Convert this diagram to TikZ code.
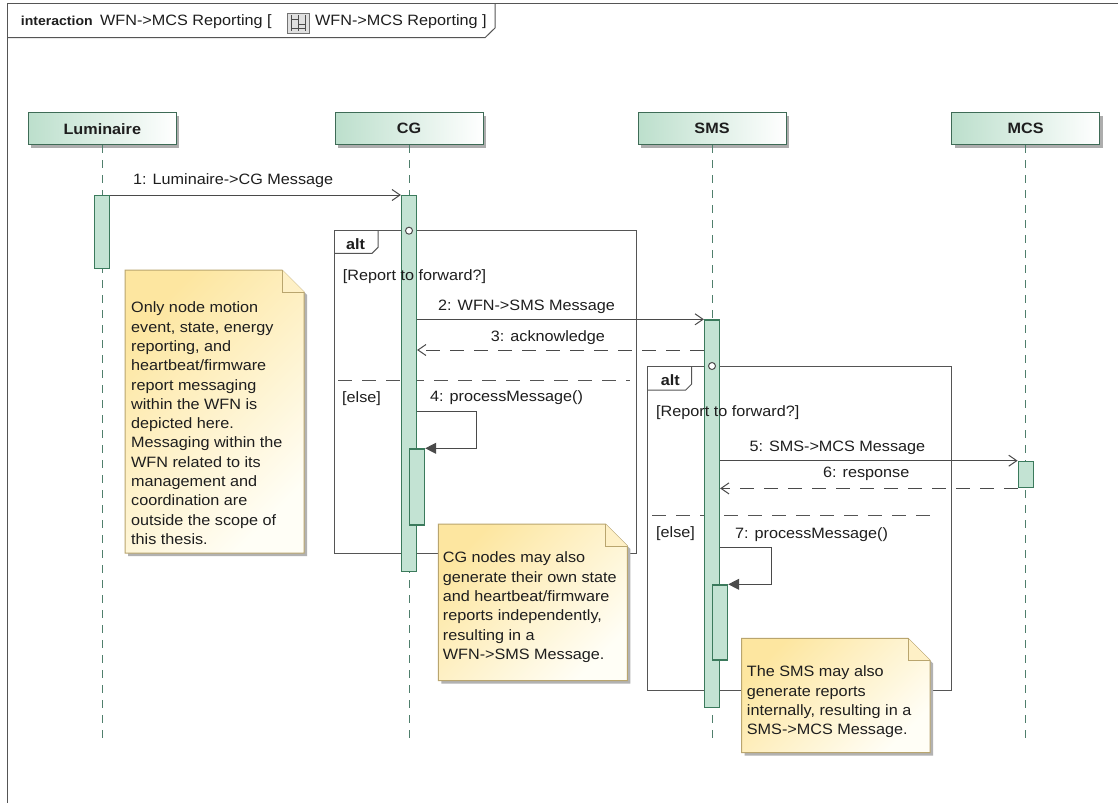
\documentclass[tikz,border=0pt]{standalone}
\usepackage{fontspec}
\setmainfont{Liberation Sans}[FakeStretch=1.08]
\usetikzlibrary{arrows.meta,shadows}

\definecolor{txt}{HTML}{1E1E1E}
\definecolor{frameline}{HTML}{555555}
\definecolor{msgline}{HTML}{4A4A4A}
\definecolor{headgreen}{HTML}{BCDFCC}
\definecolor{headedge}{HTML}{3E6B56}
\definecolor{barfill}{HTML}{C3E3D3}
\definecolor{baredge}{HTML}{3B7A5C}
\definecolor{lifeline}{HTML}{4F7F6C}
\definecolor{noteyellow}{HTML}{FDE6A0}
\definecolor{notelight}{HTML}{FFFEF6}
\definecolor{noteedge}{HTML}{B9A56E}

\begin{document}
\begin{tikzpicture}[x=1pt,y=-1pt,
  every node/.style={font=\fontsize{15}{19.3}\selectfont, text=txt},
  head/.style={draw=headedge, line width=1pt, left color=headgreen, right color=white,
    minimum width=148pt, minimum height=32pt, inner sep=0pt, font=\fontsize{15}{19}\selectfont\bfseries,
    drop shadow={shadow xshift=3pt, shadow yshift=-3pt, fill=black!40, opacity=0.8}},
  life/.style={draw=lifeline, line width=1pt, dash pattern=on 8pt off 7pt},
  actbar/.style={draw=baredge, fill=barfill, line width=1.2pt, minimum width=15pt, inner sep=0pt},
  msg/.style={draw=msgline, line width=1pt, -{Straight Barb[length=8pt,width=11pt,line width=1pt]}},
  reply/.style={msg, dash pattern=on 14pt off 10pt},
  selfmsg/.style={draw=msgline, line width=1pt, -{Triangle[length=11pt,width=11pt]}},
  lbl/.style={anchor=base west, inner sep=0pt},
  frag/.style={draw=frameline, line width=1pt},
  operand/.style={draw=frameline, line width=1pt, dash pattern=on 14pt off 10pt},
  gate/.style={circle, draw=msgline, fill=white, line width=1pt, minimum size=7pt, inner sep=0pt},
  notetext/.style={anchor=north west, inner sep=0pt, align=left},
  noteshape/.style={draw=noteedge, line width=1pt, top color=noteyellow, bottom color=notelight, shading angle=45},
  noteshadow/.style={fill=black!30},
]
\useasboundingbox (0,0) rectangle (1118,803);
\fill[white] (0,0) rectangle (1118,803);

% diagram frame and its name tab
\draw[frag] (1118,3.3) -- (7,3.3) -- (7,803);
\draw[frag] (7,37.7) -- (485,37.7) -- (495,28) -- (495,3.3);
\node[lbl, font=\fontsize{13}{16}\selectfont\bfseries] (kind) at (20.7,25.7) {interaction};
\node[lbl] (title) at (100,25.7) {WFN->MCS Reporting [};
\node[draw=black!55, fill=black!12, line width=0.8pt, minimum width=22pt, minimum height=20pt, inner sep=0pt] (icon) at (298,23) {};
\draw[black!70, line width=0.7pt] (291,15) -- (291,31) (298,15) -- (298,31) (305,15) -- (305,31);
\draw[black!70, line width=0.7pt] (291,19) -- (298,19) (298,24) -- (305,24) (305,28) -- (291,28);
\node[lbl] (title2) at (315,25.7) {WFN->MCS Reporting ]};

% lifeline heads
\node[head] (lum) at (102.3,128.8) {Luminaire};
\node[head] (cg)  at (409,128.8) {CG};
\node[head] (sms) at (712,128.8) {SMS};
\node[head] (mcs) at (1025.7,128.8) {MCS};

% lifeline ends
\coordinate (lumEnd) at (102.3,738);
\coordinate (cgEnd)  at (409,738);
\coordinate (smsEnd) at (712,738);
\coordinate (mcsEnd) at (1025.7,738);

\draw[life] (lum.south) -- (lumEnd);
\draw[life] (cg.south) -- (cgEnd);
\draw[life] (sms.south) -- (smsEnd);
\draw[life] (mcs.south) -- (mcsEnd);

% combined fragment 1 (CG)
\draw[frag] (334,230.7) rectangle (636.7,553.3);
\draw[frag] (334,253.3) -- (372,253.3) -- (378,247.3) -- (378,230.7);
\draw[operand] (338,380) -- (630,380);

% combined fragment 2 (SMS)
\draw[frag] (647.3,366) rectangle (951.7,690.7);
\draw[frag] (647.3,390) -- (685.7,390) -- (691.7,384) -- (691.7,366);
\draw[operand] (652,515) -- (940,515);

% activation bars
\node[actbar, anchor=north, minimum height=73pt]  (lumbar) at (102.3,195) {};
\node[actbar, anchor=north, minimum height=376pt] (cgbar)  at (409,195) {};
\node[actbar, anchor=north, minimum height=387.7pt] (smsbar) at (712,319.3) {};
\node[actbar, anchor=north, minimum height=26.5pt] (mcsbar) at (1025.7,460.7) {};
\node[actbar, anchor=north west, minimum height=76pt] (cgnest)  at (409,448.3) {};
\node[actbar, anchor=north west, minimum height=75pt] (smsnest) at (712,584.3) {};

% gates of the fragments
\node[gate] (g1) at (409,230.7) {};
\node[gate] (g2) at (712,366) {};

% fragment labels and guards
\node[lbl, font=\fontsize{15}{19}\selectfont\bfseries] (alt1) at (346,249) {alt};
\node[lbl] (guard1) at (342.7,280) {[Report to forward?]};
\node[lbl] (else1) at (342,402) {[else]};
\node[lbl, font=\fontsize{15}{19}\selectfont\bfseries] (alt2) at (660.7,385) {alt};
\node[lbl] (guard2) at (656,416.7) {[Report to forward?]};
\node[lbl] (else2) at (656,537.7) {[else]};

% messages
\draw[msg] (lumbar.north east) -- (cgbar.north west);
\node[lbl] (l1) at (133,184.3) {1: Luminaire->CG Message};

\draw[msg] (cgbar.east |- smsbar.north) -- (smsbar.north west);
\node[lbl] (l2) at (438,310) {2: WFN->SMS Message};

\draw[reply] (smsbar.west |- 0,350) -- (cgbar.east |- 0,350);
\node[lbl] (l3) at (490.7,341.7) {3: acknowledge};

\draw[selfmsg] (cgbar.east |- 0,411.7) -| (476.7,448.3) -- (cgnest.north east);
\node[lbl] (l4) at (430,401.7) {4: processMessage()};

\draw[msg] (smsbar.east |- mcsbar.north) -- (mcsbar.north west);
\node[lbl] (l5) at (749.3,451) {5: SMS->MCS Message};

\draw[reply] (mcsbar.south west) -- (smsbar.east |- mcsbar.south);
\node[lbl] (l6) at (823,477.7) {6: response};

\draw[selfmsg] (smsbar.east |- 0,547.3) -| (771.7,584.3) -- (smsnest.north east);
\node[lbl] (l7) at (735,538.3) {7: processMessage()};

% notes
\fill[noteshadow] (128,273) -- (285,273) -- (307,295) -- (307,556) -- (128,556) -- cycle;
\path[noteshape] (125,270) -- (282,270) -- (304,292) -- (304,553) -- (125,553) -- cycle;
\draw[draw=noteedge, line width=1pt, fill=noteyellow!60] (282,270) -- (282,292) -- (304,292);
\node[notetext] (n1) at (131,301.8) {Only node motion\\event, state, energy\\reporting, and\\heartbeat/firmware\\report messaging\\within the WFN is\\depicted here.\\Messaging within the\\WFN related to its\\management and\\coordination are\\outside the scope of\\this thesis.};

\fill[noteshadow] (441.3,527) -- (608.3,527) -- (630.3,549) -- (630.3,683.7) -- (441.3,683.7) -- cycle;
\path[noteshape] (438.3,524) -- (605.3,524) -- (627.3,546) -- (627.3,680.7) -- (438.3,680.7) -- cycle;
\draw[draw=noteedge, line width=1pt, fill=noteyellow!60] (605.3,524) -- (605.3,546) -- (627.3,546);
\node[notetext] (n2) at (442.7,551.8) {CG nodes may also\\generate their own state\\and heartbeat/firmware\\reports independently,\\resulting in a\\WFN->SMS Message.};

\fill[noteshadow] (744.7,641.3) -- (911,641.3) -- (933,663.3) -- (933,755.7) -- (744.7,755.7) -- cycle;
\path[noteshape] (741.7,638.3) -- (908,638.3) -- (930,660.3) -- (930,752.7) -- (741.7,752.7) -- cycle;
\draw[draw=noteedge, line width=1pt, fill=noteyellow!60] (908,638.3) -- (908,660.3) -- (930,660.3);
\node[notetext] (n3) at (746.7,665.8) {The SMS may also\\generate reports\\internally, resulting in a\\SMS->MCS Message.};
\end{tikzpicture}
\end{document}
